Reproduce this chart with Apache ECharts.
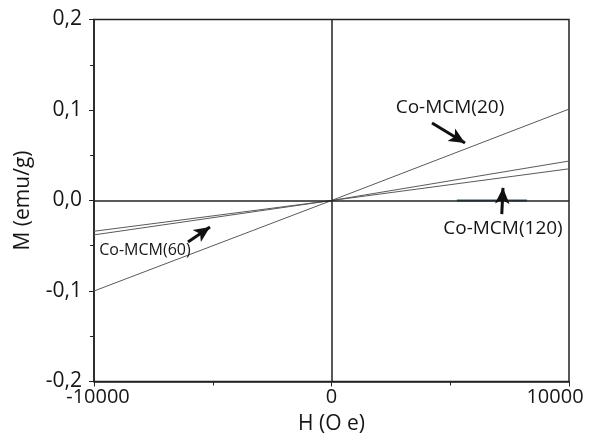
<!DOCTYPE html>
<html>
<head>
<meta charset="utf-8">
<script src="https://cdn.jsdelivr.net/npm/echarts@6/dist/echarts.min.js"></script>
<style>html,body{margin:0;padding:0;background:#fff}#c{width:589px;height:441px}</style>
</head>
<body>
<div id="c"></div>
<script>
var fieldH = [-10000, 0, 10000];
var mCo20 = [-0.100, 0, 0.101];
var mCoA = [-0.038, 0, 0.0436];
var mCo60 = [-0.034, 0, 0.035];
var fieldH120 = [5280, 8230];
var mCo120 = [0, 0];
var yTicks = [-0.2, -0.1, 0, 0.1, 0.2];
var xTicks = [-10000, 0, 10000];

function pairs(xs, ys){ return xs.map(function(x,i){return [x, ys[i]];}); }
var font = '"Open Sans", sans-serif';
var lineCol = '#5a5a5a';
var txt = '#161616';

var chart = echarts.init(document.getElementById('c'), null, {renderer:'canvas'});
chart.setOption({
  animation:false,
  backgroundColor:'#fff',
  grid:{left:94, right:20, top:19.5, bottom:59.5, containLabel:false, outerBoundsMode:'none',
    show:true, borderColor:'#222', borderWidth:1.5, backgroundColor:'transparent'},
  xAxis:{type:'value', min:-10000, max:10000, interval:10000,
    name:'H (O e)', nameLocation:'middle', nameGap:32,
    nameTextStyle:{fontFamily:font, fontSize:21, color:txt},
    axisLine:{onZero:false, lineStyle:{color:'#222', width:1.5}},
    axisTick:{show:true, length:5, inside:false, lineStyle:{color:'#222'}},
    minorTick:{show:true, splitNumber:2, length:4, lineStyle:{color:'#222'}},
    splitLine:{show:false},
    axisLabel:{fontFamily:font, fontSize:20, color:txt, margin:6, letterSpacing:-0.5,
      formatter:function(v){
        if (v === xTicks[0]) return '{mn|' + v + '}';
        if (v === xTicks[xTicks.length-1]) return '{mx|' + v + '}';
        return String(v);
      },
      rich:{
        mn:{fontFamily:font, fontSize:20, color:txt, padding:[0,0,0,8]},
        mx:{fontFamily:font, fontSize:20, color:txt, padding:[0,28,0,0]}
      }}
  },
  yAxis:{type:'value', min:-0.2, max:0.2, interval:0.1,
    name:'M (emu/g)', nameLocation:'middle', nameGap:60,
    nameTextStyle:{fontFamily:font, fontSize:21, color:txt},
    axisLine:{onZero:false, lineStyle:{color:'#222', width:1.5}},
    axisTick:{show:true, length:5, lineStyle:{color:'#222'}},
    minorTick:{show:true, splitNumber:2, length:4, lineStyle:{color:'#222'}},
    splitLine:{show:false},
    axisLabel:{fontFamily:font, fontSize:21, color:txt, margin:12,
      formatter:function(v){return v.toFixed(1).replace('.', ',');}}
  },
  series:[
    {type:'line', data:pairs(fieldH, mCo20), symbol:'none', lineStyle:{color:lineCol, width:1}, z:3,
      markLine:{silent:true, symbol:'none', label:{show:false},
        lineStyle:{color:'#222', width:1.5, type:'solid'},
        data:[{xAxis:0},{yAxis:0}]}
    },
    {type:'line', data:pairs(fieldH, mCoA), symbol:'none', lineStyle:{color:lineCol, width:1}, z:3},
    {type:'line', data:pairs(fieldH, mCo60), symbol:'none', lineStyle:{color:lineCol, width:1}, z:3},
    {type:'line', name:'Co-MCM(120)', data:pairs(fieldH120, mCo120), symbol:'none', lineStyle:{color:'#2c5a66', width:2}, z:4,
      markLine:{silent:true, symbol:['none','arrow'], symbolSize:[11,16], label:{show:false},
        lineStyle:{color:'#111', width:3, type:'solid'},
        data:[
          [{coord:[4232,0.0856]},{coord:[5621,0.0635]}],
          [{coord:[7170,-0.0150]},{coord:[7221,0.0140]}],
          [{coord:[-6042,-0.0459]},{coord:[-5116,-0.0293]}]
        ]},
      markPoint:{silent:true, symbol:'circle', symbolSize:0,
        label:{show:true, position:'inside', fontFamily:font, color:txt},
        data:[
          {coord:[4990,0.103], value:0, label:{formatter:'Co-MCM(20)', fontSize:19}},
          {coord:[7221,-0.0315], value:0, label:{formatter:'Co-MCM(120)', fontSize:19}},
          {coord:[-7853,-0.0547], value:0, label:{formatter:'Co-MCM(60)', fontSize:16, letterSpacing:-1}}
        ]}
    }
  ]
});
</script>
</body>
</html>
